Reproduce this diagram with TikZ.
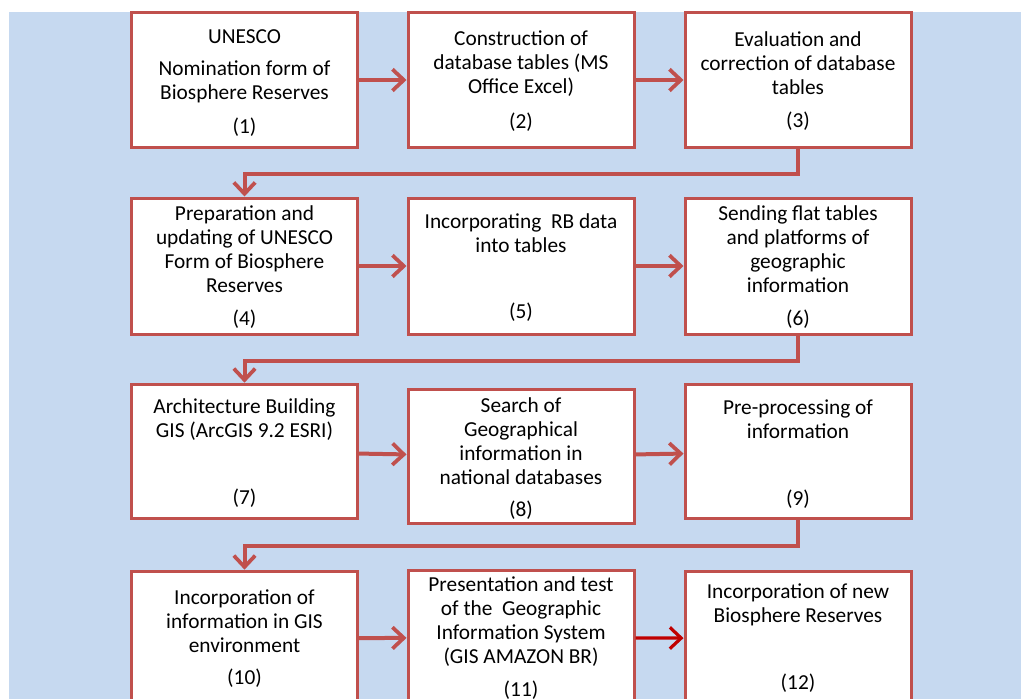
\documentclass[tikz,border=0pt]{standalone}
\usepackage{fontspec}
\setmainfont{Carlito}
\usetikzlibrary{arrows.meta,positioning}
\definecolor{PanelBlue}{RGB}{198,217,240}
\definecolor{BoxRed}{RGB}{192,80,77}
\definecolor{DeepRed}{RGB}{192,0,0}

\begin{document}
\begin{tikzpicture}[x=0.75pt,y=-0.75pt,
  stage/.style={draw=BoxRed,fill=white,line width=2.25pt,
                minimum width=169.5pt,minimum height=101pt,inner sep=0pt},
  stagetext/.style={font=\fontsize{16}{18}\selectfont,align=center,inner sep=0pt},
  stagenum/.style={font=\fontsize{16}{18}\selectfont,inner sep=0pt},
  flow/.style={-{Straight Barb[length=8.5pt,width=16pt,line width=2.8pt]},
               draw=BoxRed,line width=3pt},
  lastflow/.style={-{Straight Barb[length=8.5pt,width=16pt,line width=2.4pt]},
                   draw=DeepRed,line width=2.4pt},
]
\clip (0,0) rectangle (1021,699);
\fill[PanelBlue] (9,12) rectangle (1021,699);

%% Row 1
\node[stage] (b1) at (244.5,80) {};
\node[stage] (b2) at (521,80)   {};
\node[stage] (b3) at (798,80)   {};
\node[stagetext] (t1) at (244.5,66.5) {UNESCO\\[6pt]Nomination form of\\Biosphere Reserves};
\node[stagetext] (t2) at (521,63.5) {Construction of\\database tables (MS\\Office Excel)};
\node[stagetext] (t3) at (798,63.5) {Evaluation and\\correction of database\\tables};
\node[stagenum] (n1) at (244.5,127) {(1)};
\node[stagenum] (n2) at (521,122)   {(2)};
\node[stagenum] (n3) at (798,121)   {(3)};

%% Row 2
\node[stage,minimum height=102pt] (b4) at (244.5,266) {};
\node[stage,minimum height=102pt] (b5) at (521,266)   {};
\node[stage,minimum height=102pt] (b6) at (798,266)   {};
\node[stagetext] (t4) at (244.5,249) {Preparation and\\updating of UNESCO\\Form of Biosphere\\Reserves};
\node[stagetext] (t5) at (521,233) {Incorporating\ \ RB data\\into tables};
\node[stagetext] (t6) at (798,249) {Sending flat tables\\and platforms of\\geographic\\information};
\node[stagenum] (n4) at (244.5,319) {(4)};
\node[stagenum] (n5) at (521,312)   {(5)};
\node[stagenum] (n6) at (798,319)   {(6)};

%% Row 3
\node[stage] (b7) at (244.5,451.5) {};
\node[stage] (b8) at (521,456.5)   {};
\node[stage] (b9) at (798,451.5)   {};
\node[stagetext] (t7) at (244.5,419.5) {Architecture Building\\GIS (ArcGIS 9.2 ESRI)};
\node[stagetext] (t8) at (521,441) {Search of\\Geographical\\information in\\national databases};
\node[stagetext] (t9) at (798,419.5) {Pre-processing of\\information};
\node[stagenum] (n7) at (244.5,498) {(7)};
\node[stagenum] (n8) at (521,510)   {(8)};
\node[stagenum] (n9) at (798,499)   {(9)};

%% Row 4
\node[stage] (b10) at (244.5,638.5) {};
\node[stage] (b11) at (521,637.5)   {};
\node[stage] (b12) at (798,638.5)   {};
\node[stagetext] (t10) at (244.5,621.5) {Incorporation of\\information in GIS\\environment};
\node[stagetext] (t11) at (521,622) {Presentation and test\\of the\ \ Geographic\\Information System\\(GIS AMAZON BR)};
\node[stagetext] (t12) at (798,605) {Incorporation of new\\Biosphere Reserves};
\node[stagenum] (n10) at (244.5,678) {(10)};
\node[stagenum] (n11) at (521,690)   {(11)};
\node[stagenum] (n12) at (798,683)   {(12)};

%% connectors
\draw[flow] (b1) -- (b2);
\draw[flow] (b2) -- (b3);
\draw[flow] (b3.south) -- ++(0,25) -| (b4.north);
\draw[flow] (b4) -- (b5);
\draw[flow] (b5) -- (b6);
\draw[flow] (b6.south) -- ++(0,25) -| (b7.north);
\draw[flow] (b7) -- (b8);
\draw[flow] (b8) -- (b9);
\draw[flow] (b9.south) -- ++(0,26) -| (b10.north);
\draw[flow] (b10) -- (b11);
\draw[lastflow] (b11) -- (b12);
\end{tikzpicture}
\end{document}
